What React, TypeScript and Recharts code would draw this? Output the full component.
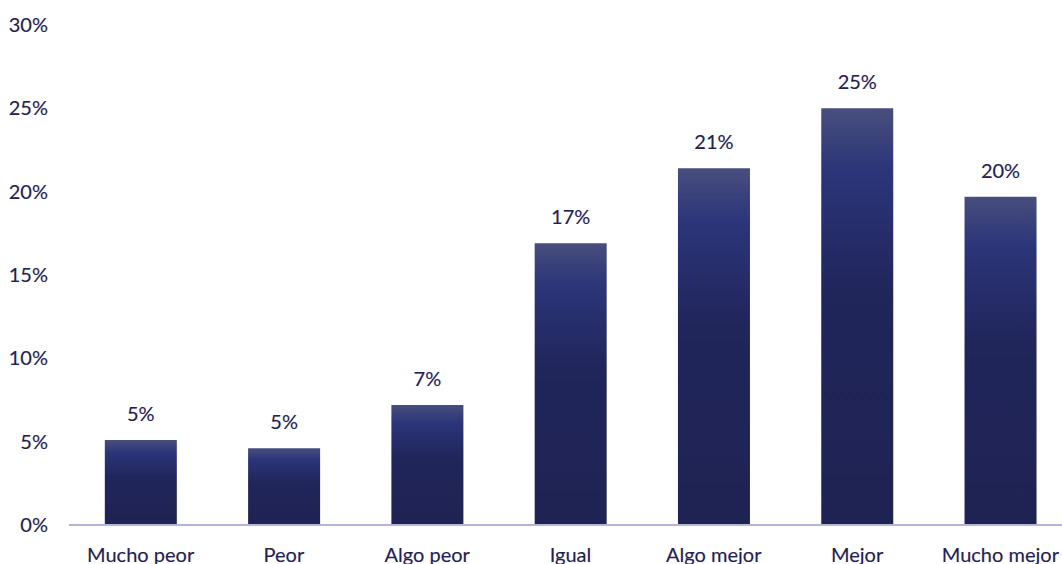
import { Bar, BarChart, LabelList, XAxis, YAxis } from "recharts";

const categories = ["Mucho peor", "Peor", "Algo peor", "Igual", "Algo mejor", "Mejor", "Mucho mejor"];
const shares = [5.1, 4.6, 7.2, 16.9, 21.4, 25.0, 19.7];
const yTicks = [0, 5, 10, 15, 20, 25, 30];

const data = categories.map((name, i) => ({ name, value: shares[i] }));

const ink = "#1f2156";
const font = "Lato, 'Open Sans', sans-serif";
// thin outline on text to get closer to the heavier original lettering
const textStyle = { fill: ink, fontSize: 20, fontFamily: font, stroke: ink, strokeWidth: 0.15 };

export default function App() {
  return (
    <div style={{ position: "absolute", left: 0, top: 0, width: 1062, height: 564, overflow: "hidden", background: "#fff" }}>
      <BarChart
        width={1075}
        height={564}
        data={data}
        margin={{ top: 25, right: 3, bottom: 0, left: 0 }}
        barCategoryGap="25%"
      >
        <defs>
          <linearGradient id="barFill" x1="0" y1="0" x2="0" y2="1">
            <stop offset="0%" stopColor="#484e7d" />
            <stop offset="15%" stopColor="#2b3579" />
            <stop offset="45%" stopColor="#20255a" />
            <stop offset="100%" stopColor="#1f2353" />
          </linearGradient>
        </defs>
        <XAxis
          dataKey="name"
          axisLine={{ stroke: "#b4b4dc", strokeWidth: 2 }}
          tickLine={false}
          tickSize={0}
          tickMargin={23}
          height={39}
          interval={0}
          tick={textStyle}
        />
        <YAxis
          domain={[0, 30]}
          ticks={yTicks}
          width={69}
          axisLine={false}
          tickLine={false}
          tickSize={0}
          tickMargin={21}
          tickFormatter={(v) => `${v}%`}
          tick={textStyle}
        />
        <Bar dataKey="value" fill="url(#barFill)" isAnimationActive={false}>
          <LabelList
            dataKey="value"
            position="top"
            offset={19}
            formatter={(v: number) => `${Math.round(v)}%`}
            {...textStyle}
          />
        </Bar>
      </BarChart>
    </div>
  );
}
